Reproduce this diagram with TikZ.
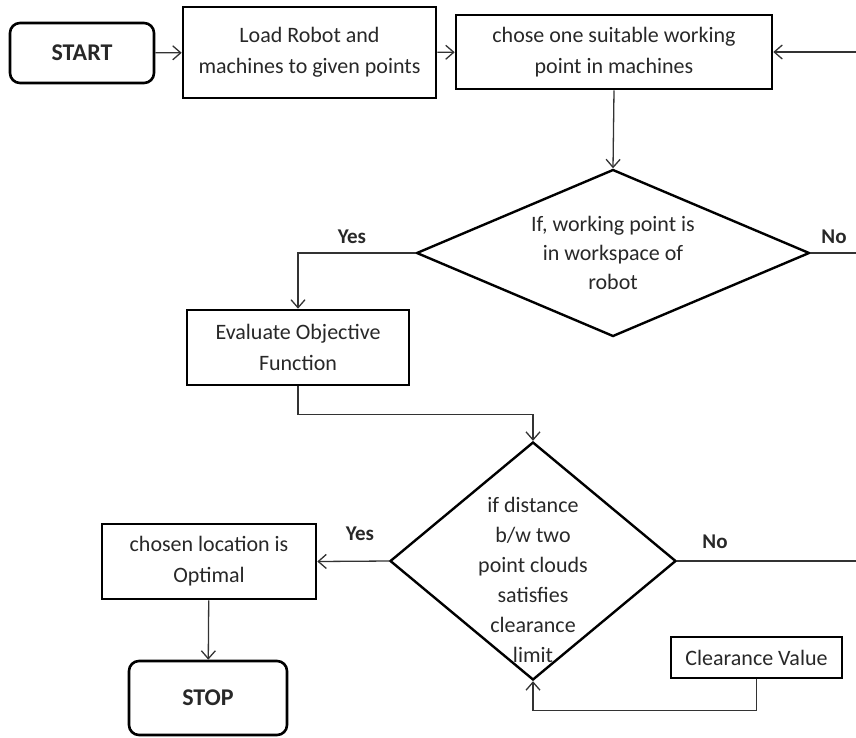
\documentclass[tikz,border=0pt]{standalone}
\usepackage{fontspec}
\setmainfont{Carlito}
\usetikzlibrary{shapes.geometric,arrows.meta}

\definecolor{txtgray}{RGB}{40,40,40}

\tikzset{
  procbox/.style={draw, line width=2.6pt, align=center, inner sep=0pt, text=txtgray,
    font=\fontsize{22}{31}\selectfont},
  termbox/.style={procbox, rounded corners=10pt, font=\fontsize{24}{30}\selectfont\bfseries},
  decision/.style={draw, diamond, line width=2.4pt, inner sep=0pt},
  choice/.style={font=\fontsize{21}{24}\selectfont\bfseries, text=txtgray},
  link/.style={line width=1.3pt, draw=black!80},
  >={Straight Barb[length=8pt,width=14pt]}
}

\begin{document}
\begin{tikzpicture}[x=1pt, y=-1pt]
  \useasboundingbox (0,0) rectangle (856,737);

  % top row
  \node[termbox, minimum width=144pt, minimum height=60pt] (start) at (82,53) {START};
  \node[procbox, minimum width=253pt, minimum height=91pt] (load) at (309.5,52.5)
    {Load Robot and\\machines to given points};
  \node[procbox, minimum width=316pt, minimum height=74pt] (chose) at (614,52)
    {chose one suitable working\\point in machines};
  \coordinate (back) at (856,52);

  % first decision
  \node[decision, minimum width=393pt, minimum height=167pt,
    label={[align=center, text=txtgray, font=\fontsize{22}{29}\selectfont]center:If, working point is\\in workspace of\\robot}]
    (check) at (613,253) {};
  \coordinate (checkno) at (856,253);

  \node[procbox, minimum width=222pt, minimum height=75pt] (eval) at (298,347.5)
    {Evaluate Objective\\Function};

  % second decision
  \node[decision, minimum width=286pt, minimum height=238pt] (clear) at (533,561) {};
  \node[align=center, text=txtgray, font=\fontsize{22}{30}\selectfont] (cleartxt) at (533,580)
    {if distance\\b/w two\\point clouds\\satisfies\\clearance\\limit};
  \coordinate (clearno) at (856,561);

  \node[procbox, minimum width=214pt, minimum height=75pt] (optimal) at (209,561.5)
    {chosen location is\\Optimal};
  \node[termbox, minimum width=158pt, minimum height=74pt] (stop) at (208,698) {STOP};
  \node[procbox, minimum width=171pt, minimum height=41pt] (value) at (756.5,657.5)
    {Clearance Value};

  % connectors
  \draw[link, ->] (start) -- (load);
  \draw[link, ->] (load) -- (chose);
  \draw[link, ->] (back) -- (chose);
  \draw[link, ->] (chose.south) -- (check.north);
  \draw[link, ->] (check.west) -| (eval.north);
  \draw[link] (check.east) -- (checkno);
  \draw[link, ->] (eval.south) -- ++(0,28) -| (clear.north);
  \draw[link, ->] (clear.west) -- (optimal.east);
  \draw[link] (clear.east) -- (clearno);
  \draw[link, ->] (optimal) -- (stop);
  \draw[link, ->] (value.south) -- ++(0,31) -| (clear.south);

  % branch labels
  \node[choice] (yes1) at (352,237) {Yes};
  \node[choice] (no1) at (834,237) {No};
  \node[choice] (yes2) at (360,534) {Yes};
  \node[choice] (no2) at (715,542) {No};
\end{tikzpicture}
\end{document}
